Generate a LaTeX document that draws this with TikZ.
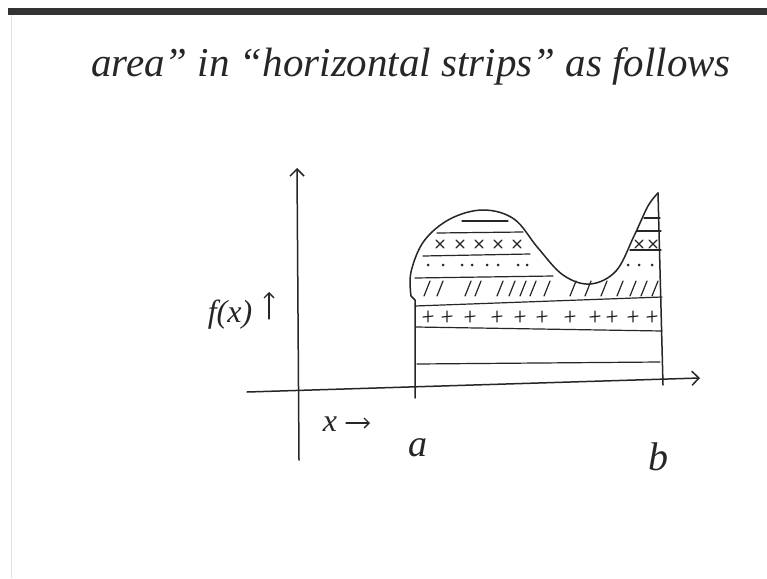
\documentclass[tikz,border=0pt]{standalone}
\usepackage{fontspec}
\setmainfont{Liberation Serif}
\usetikzlibrary{arrows.meta}
\begin{document}
\begin{tikzpicture}[x=1pt,y=-1pt,
  ink/.style={line width=1.5pt,line cap=round,line join=round,black!85},
  thin ink/.style={line width=1.2pt,line cap=round,black!85},
  hand/.style={inner sep=0pt,text=black!85,anchor=base},
  barb/.style={-{Straight Barb[length=7pt,width=14pt,line width=1.5pt]}},
  smallbarb/.style={-{Straight Barb[length=5pt,width=10pt,line width=1.3pt]}}]
\useasboundingbox (0,0) rectangle (767,578);
\fill[white] (0,0) rectangle (767,578);
% top bar and left frame
\fill[black!80] (8,8) rectangle (767,15);
\draw[black!12,line width=1pt] (11,15) -- (11,578);
% title
\node[hand,font=\fontsize{41}{48}\selectfont\itshape] (title) at (411,76) {area'' in ``horizontal strips'' as follows};
% axes
\coordinate (yb) at (299,460);
\coordinate (yt) at (297,168);
\coordinate (xl) at (247,392);
\coordinate (xr) at (700,378);
\draw[ink,barb] (yb) -- (yt);
\draw[ink,barb] (xl) -- (xr);
% labels
\node[hand,font=\fontsize{32}{40}\selectfont\itshape] (fx) at (230,322) {f(x)};
\coordinate (fa0) at (269,319);
\coordinate (fa1) at (269,292);
\draw[thin ink,smallbarb] (fa0) -- (fa1);
\node[hand,font=\fontsize{32}{38}\selectfont\itshape] (xar) at (330,431) {x};
\coordinate (xa0) at (346,423);
\coordinate (xa1) at (370,423);
\draw[thin ink,smallbarb] (xa0) -- (xa1);
\node[hand,font=\fontsize{38}{44}\selectfont\itshape] (a) at (418,456) {a};
\node[hand,font=\fontsize{40}{46}\selectfont\itshape] (b) at (658,470) {b};
% region boundary
\coordinate (L0) at (415,398);
\coordinate (L1) at (415,300);
\coordinate (R0) at (663,385);
\coordinate (R1) at (658,193);
\draw[ink] (L0) -- (L1) -- (411,296)
  plot[smooth,tension=0.6] coordinates {(411,296) (411,272) (424,241) (450,219) (483,210) (514,219) (538,248) (563,275) (590,284) (616,271) (634,236) (648,206) (658,193)};
\draw[ink] (R1) -- (R0);
% strip lines
\draw[thin ink] (417,364) -- (660,362);
\draw[thin ink] (416,327) -- (662,331);
\draw[thin ink] (415,306) -- (662,297);
\draw[thin ink] (415,278) -- (553,276);
\draw[thin ink] (423,256) -- (530,254);
\draw[thin ink] (630,250) -- (661,250);
\draw[thin ink] (437,233) -- (523,232);
\draw[thin ink] (637,231) -- (661,231);
\draw[thin ink] (462,221) -- (508,221);
\draw[thin ink] (644,218) -- (660,218);
% crosses
\foreach \px in {440,460,479,498,517,639,653}
  \draw[thin ink] (\px-4,240) -- (\px+4,248) (\px-4,248) -- (\px+4,240);
% dots
\foreach \px in {428,443,462,472,487,498,518,527,628,639,652}
  \fill[black!85] (\px,265) circle (1.5pt);
% slashes
\foreach \px in {427,440,468,478,500,512,523,533,547,573,588,604,620,633,644,655}
  \draw[thin ink] (\px-3,296) -- (\px+3,281);
% plus signs
\foreach \px in {428,447,470,497,520,542,570,595,612,633,652}
  \draw[thin ink] (\px-5,317) -- (\px+5,316) (\px,311) -- (\px,322);
\end{tikzpicture}
\end{document}
